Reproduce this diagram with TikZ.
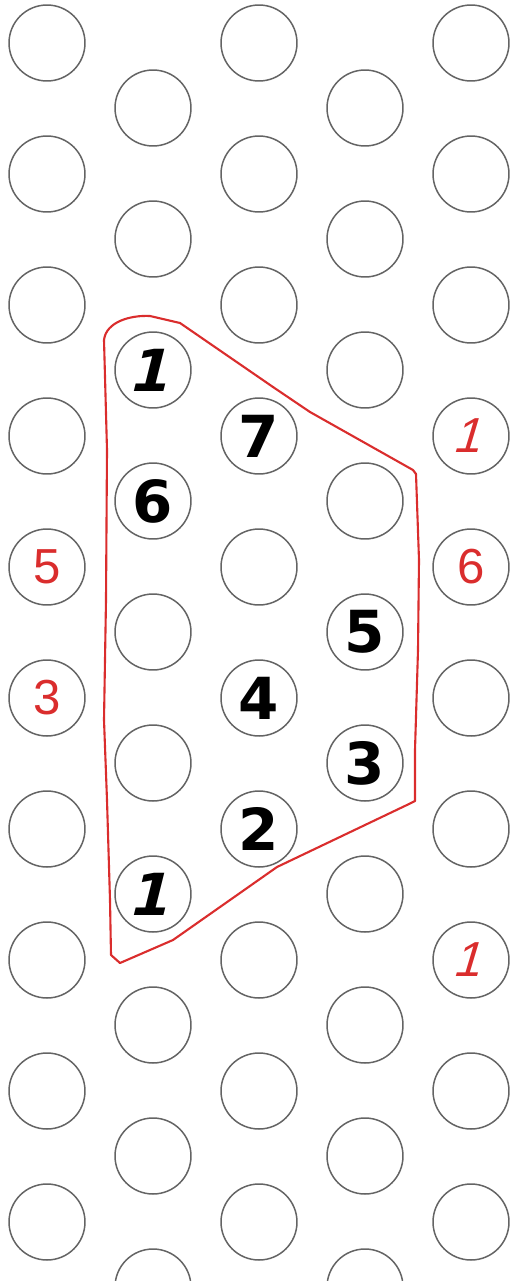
\documentclass[tikz,border=0pt]{standalone}
\usepackage{fontspec}
\newfontfamily\inkfont{DejaVu Sans}
\newfontfamily\penfont{Liberation Sans}
\definecolor{penred}{RGB}{218,45,45}
\definecolor{ringgray}{RGB}{100,100,100}

\begin{document}
\begin{tikzpicture}[x=0.02cm, y=-0.02cm,
    ring/.style={circle, draw=ringgray, line width=0.85pt, minimum size=1.52cm, inner sep=0pt},
    inked/.style={font=\inkfont\bfseries\fontsize{33}{36}\selectfont},
    penned/.style={text=penred, font=\penfont\fontsize{28}{30}\selectfont}]
    \useasboundingbox (0,0) rectangle (512,1281);

    % 1. grid of rings (five staggered columns)
    \foreach \c/\x/\yo in {1/47/43, 2/153/108, 3/259/43, 4/365/108, 5/471/43}
        \foreach \r in {0,...,9}
            \node[ring] (c\c-\r) at (\x, {\yo+131*\r}) {};

    % 2. red outline of the region
    \draw[penred, line width=1.2pt, line join=round]
        (111,955) -- (110,900) -- (107,800) -- (104,720) -- (106,600)
        -- (107,450) -- (104,340) .. controls (106,322) and (130,315) .. (150,316)
        -- (180,323) -- (273,387) -- (310,412) -- (413,470) -- (416,474)
        -- (419,560) -- (418,650) -- (415,750) -- (415,801) -- (409,804)
        -- (277,867) -- (173,940) -- (120,963) -- cycle;

    % 3. black numbers inside the region
    \node[inked, xslant=0.25] (b1) at (c2-2) {1};
    \node[inked] (b7) at (c3-3) {7};
    \node[inked] (b6) at (c2-3) {6};
    \node[inked] (b5) at (c4-4) {5};
    \node[inked] (b4) at (c3-5) {4};
    \node[inked] (b3) at (c4-5) {3};
    \node[inked] (b2) at (c3-6) {2};
    \node[inked, xslant=0.25] (b0) at (c2-6) {1};

    % 4. red numbers outside
    \node[penned, xslant=0.3] (r1) at (c5-3) {1};
    \node[penned] (r5) at (c1-4) {5};
    \node[penned] (r6) at (c5-4) {6};
    \node[penned] (r3) at (c1-5) {3};
    \node[penned, xslant=0.3] (r0) at (c5-7) {1};
\end{tikzpicture}
\end{document}
